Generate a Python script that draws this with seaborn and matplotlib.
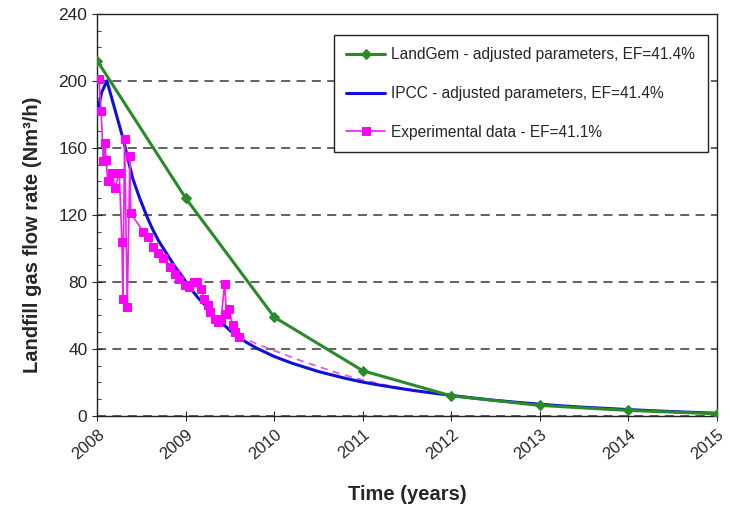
import matplotlib
matplotlib.use("Agg")
import matplotlib.pyplot as plt
import matplotlib.transforms as mtransforms
from matplotlib.ticker import MultipleLocator
import seaborn as sns

# --- data ---
landgem_years = [2008, 2009, 2010, 2011, 2012, 2013, 2014, 2015]
landgem_flow = [212, 130, 59, 27, 12, 6.3, 3.3, 1.3]

ipcc_years = [2008.00, 2008.05, 2008.11, 2008.20, 2008.29, 2008.40, 2008.48, 2008.57,
              2008.63, 2008.70, 2008.76, 2008.82, 2008.88, 2008.93, 2008.99, 2009.04,
              2009.14, 2009.24, 2009.32, 2009.40, 2009.50, 2009.61, 2009.70, 2009.80,
              2009.90, 2010.00, 2010.10, 2010.20, 2010.35, 2010.50, 2010.65, 2010.80,
              2011.00, 2011.20, 2011.40, 2011.60, 2011.80, 2012.00, 2012.25, 2012.50,
              2012.75, 2013.00, 2013.25, 2013.50, 2013.75, 2014.00, 2014.25, 2014.50,
              2014.75, 2015.00]
ipcc_flow = [180, 193, 200, 183, 166, 142, 130, 118,
             111, 104, 99, 94, 89, 85.5, 81, 77,
             70.5, 65, 60, 56, 51, 46.5, 43.5, 40.5,
             38, 35.5, 33.5, 31.5, 29, 26.5, 24.5, 22.5,
             20.2, 18.3, 16.6, 15, 13.6, 12.3, 10.7, 9.3,
             8.1, 7, 6, 5.2, 4.5, 3.8, 3.2, 2.6,
             2.1, 1.6]

exp_years = [2008.02, 2008.045, 2008.07, 2008.09, 2008.10, 2008.12, 2008.17, 2008.20,
             2008.25, 2008.28, 2008.29, 2008.31, 2008.34, 2008.37, 2008.38, 2008.52,
             2008.57, 2008.63, 2008.69, 2008.74, 2008.82, 2008.88, 2008.93, 2008.99,
             2009.04, 2009.09, 2009.13, 2009.17, 2009.21, 2009.25, 2009.28, 2009.33,
             2009.37, 2009.40, 2009.44, 2009.46, 2009.49, 2009.53, 2009.56, 2009.60]
exp_flow = [201, 182, 152, 163, 153, 140, 145, 136,
            145, 104, 70, 165, 65, 155, 121, 110,
            107, 101, 97, 94, 89, 85, 82, 78,
            77, 80, 80, 76, 70, 66, 62, 58,
            56, 58, 79, 61, 64, 54, 50, 47]

fit_years = [2009.60, 2009.70, 2009.80, 2009.90, 2010.00, 2010.15, 2010.30, 2010.50,
             2010.75, 2011.00, 2011.25, 2011.50, 2011.75, 2012.00, 2012.50, 2013.00,
             2013.50, 2014.00, 2014.50, 2015.00]
fit_flow = [48.5, 45.5, 43, 41, 39, 36, 33, 29.5,
            25, 21.5, 18.5, 16, 14, 12.2, 9.3, 7,
            5.2, 3.8, 2.6, 1.6]

year_ticks = list(range(2008, 2016))

sns.set_style("ticks")
plt.rcParams["font.family"] = ["Liberation Sans", "DejaVu Sans"]

fig, ax = plt.subplots(figsize=(7.36, 5.11), dpi=100)
fig.subplots_adjust(left=0.132, right=0.974, top=0.973, bottom=0.186)

sns.lineplot(x=landgem_years, y=landgem_flow, ax=ax, color="#2a8a2a", linewidth=2.2,
             marker="D", markersize=5, markeredgecolor="#2a8a2a",
             label="LandGem - adjusted parameters, EF=41.4%", zorder=4)
sns.lineplot(x=ipcc_years, y=ipcc_flow, ax=ax, color="#1010d8", linewidth=2.2,
             label="IPCC - adjusted parameters, EF=41.4%", zorder=3)
sns.lineplot(x=fit_years, y=fit_flow, ax=ax, color="#e060e0", linewidth=1.3,
             linestyle=(0, (4, 3)), zorder=2, legend=False)
sns.lineplot(x=exp_years, y=exp_flow, ax=ax, color="#f020f0", linewidth=1.2,
             marker="s", markersize=6, markeredgecolor="#ff00ff", markerfacecolor="#ff00ff",
             label="Experimental data - EF=41.1%", sort=False, estimator=None, zorder=5)

ax.set_xlim(2008, 2015)
ax.set_ylim(0, 240)
ax.yaxis.set_major_locator(MultipleLocator(40))
ax.yaxis.set_minor_locator(MultipleLocator(10))
ax.tick_params(axis="y", which="major", direction="inout", length=7, labelsize=12.5)
ax.tick_params(axis="y", which="minor", direction="in", length=3)
ax.tick_params(axis="x", which="major", direction="inout", length=7, pad=3)
ax.set_xticks(year_ticks)
ax.set_xticklabels([str(y) for y in year_ticks], rotation=40, ha="center", fontsize=12)
# nudge the rotated year labels left, like the original
shift = mtransforms.ScaledTranslation(-9 / 100, -2 / 100, fig.dpi_scale_trans)
for lbl in ax.get_xticklabels():
    lbl.set_transform(lbl.get_transform() + shift)

ax.yaxis.grid(True, which="major", linestyle=(0, (5, 3.5)), color="#555555", linewidth=1.3)
for side in ["top", "right", "left", "bottom"]:
    ax.spines[side].set_visible(True)
    ax.spines[side].set_color("#222222")
    ax.spines[side].set_linewidth(1.0)

ax.set_xlabel("Time (years)", fontsize=14.5, fontweight="bold", labelpad=16)
ax.set_ylabel("Landfill gas flow rate (Nm³/h)", fontsize=14.5, fontweight="bold")
ax.yaxis.set_label_coords(-0.089, 0.45)

leg = ax.legend(loc="upper right", bbox_to_anchor=(0.985, 0.948), borderaxespad=0,
                fontsize=11.2, labelspacing=1.53, handlelength=2.5, handletextpad=0.4,
                borderpad=0.8, fancybox=False, framealpha=1, edgecolor="#222222")
leg.get_frame().set_linewidth(1.0)

plt.savefig("out.png", dpi=100)
plt.close()
